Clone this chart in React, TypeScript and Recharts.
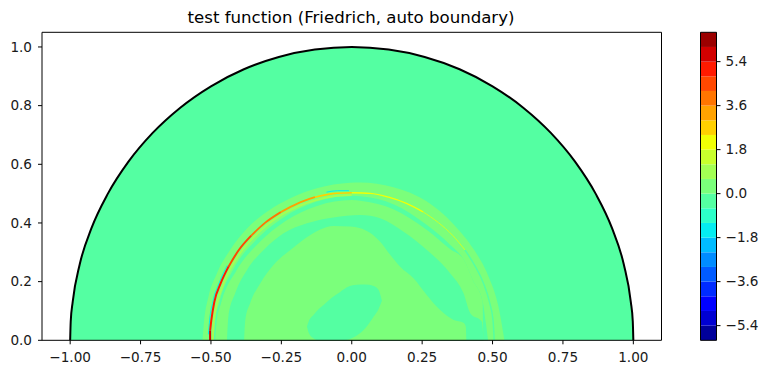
import React from 'react';
import { Area, ComposedChart, Line, ReferenceLine, XAxis, YAxis } from 'recharts';

type Pt = number[];

const xTicks = [-1, -0.75, -0.5, -0.25, 0, 0.25, 0.5, 0.75, 1];
const yTicks = [0, 0.2, 0.4, 0.6, 0.8, 1];
const barTicks = [-5.4, -3.6, -1.8, 0, 1.8, 3.6, 5.4];

const levels = [-6, -5.4, -4.8, -4.2, -3.6, -3, -2.4, -1.8, -1.2, -0.6, 0, 0.6, 1.2, 1.8, 2.4, 3, 3.6, 4.2, 4.8, 5.4, 6, 6.6];
const jetColors = [
  '#00009b', '#0000d2', '#0000ff', '#002bff', '#005bff', '#008cff', '#00bcff', '#05edf1', '#2dffc9', '#54ffa2', '#7bff7b',
  '#a3ff54', '#c9ff2d', '#f1ff05', '#ffd000', '#ffa200', '#ff7500', '#ff4800', '#ff1a00', '#d20000', '#9b0000',
];

const TEAL = jetColors[9];
const LIGHT = jetColors[10];

// unit half circle
const discEdge: Pt[] = [
  [-1, 0], [-0.998, 0.065], [-0.991, 0.131], [-0.966, 0.259], [-0.924, 0.383], [-0.866, 0.5], [-0.793, 0.609],
  [-0.707, 0.707], [-0.609, 0.793], [-0.5, 0.866], [-0.383, 0.924], [-0.259, 0.966], [-0.131, 0.991], [0, 1],
  [0.131, 0.991], [0.259, 0.966], [0.383, 0.924], [0.5, 0.866], [0.609, 0.793], [0.707, 0.707], [0.793, 0.609],
  [0.866, 0.5], [0.924, 0.383], [0.966, 0.259], [0.991, 0.131], [0.998, 0.065], [1, 0],
];

const outerRing: Pt[] = [
  [-0.53, 0], [-0.524, 0.069], [-0.509, 0.148], [-0.479, 0.228], [-0.432, 0.308], [-0.372, 0.381], [-0.301, 0.438],
  [-0.218, 0.484], [-0.124, 0.518], [-0.005, 0.537], [0.03, 0.538], [0.148, 0.522], [0.267, 0.473], [0.362, 0.395],
  [0.433, 0.31], [0.486, 0.217], [0.521, 0.115], [0.542, 0],
];

const gapUpper: Pt[] = [
  [-0.49, 0], [-0.485, 0.064], [-0.471, 0.126], [-0.42, 0.243], [-0.341, 0.341], [-0.242, 0.419], [-0.127, 0.472],
  [0, 0.493], [0.03, 0.491], [0.148, 0.464], [0.267, 0.393], [0.35, 0.325], [0.397, 0.276], [0.43, 0.205],
  [0.465, 0.132], [0.476, 0.06], [0.484, 0],
];

const bandUpper: Pt[] = [
  [-0.485, 0], [-0.48, 0.063], [-0.465, 0.124], [-0.41, 0.237], [-0.331, 0.331], [-0.235, 0.407], [-0.123, 0.458],
  [0, 0.478], [0.03, 0.476], [0.148, 0.447], [0.267, 0.376], [0.35, 0.31], [0.397, 0.276], [0.43, 0.205],
  [0.465, 0.132], [0.466, 0.063], [0.467, 0],
];

const bandLower: Pt[] = [
  [-0.443, 0], [-0.438, 0.08], [-0.414, 0.16], [-0.372, 0.24], [-0.313, 0.308], [-0.242, 0.365], [-0.159, 0.399],
  [-0.065, 0.419], [0.03, 0.427], [0.101, 0.416], [0.184, 0.37], [0.267, 0.308], [0.35, 0.228], [0.397, 0.16],
  [0.421, 0.092], [0.462, 0.063], [0.468, 0],
];

const innerBlob: Pt[] = [
  [-0.382, 0], [-0.378, 0.069], [-0.361, 0.126], [-0.325, 0.194], [-0.278, 0.257], [-0.218, 0.308], [-0.147, 0.359],
  [-0.112, 0.378], [-0.065, 0.39], [-0.005, 0.388], [0.03, 0.382], [0.066, 0.366], [0.101, 0.336], [0.137, 0.291],
  [0.172, 0.251], [0.22, 0.211], [0.267, 0.154], [0.314, 0.103], [0.362, 0.069], [0.397, 0.06], [0.405, 0.046], [0.407, 0],
];

// x, lower edge, upper edge
const holeEdge: Pt[] = [
  [-0.159, 0.047, 0.047], [-0.153, 0.026, 0.064], [-0.136, 0.007, 0.086], [-0.118, 0, 0.106], [-0.1, 0, 0.12],
  [-0.071, 0, 0.145], [-0.041, 0, 0.165], [-0.011, 0.003, 0.183], [0.018, 0.016, 0.189], [0.048, 0.041, 0.19],
  [0.078, 0.081, 0.185], [0.095, 0.106, 0.172], [0.107, 0.135, 0.135],
];

// the sharp ridge, cut in pieces by contour colour
const ridgeDark: Pt[] = [[-0.503, 0], [-0.503, 0.033]];
const ridgeRed: Pt[] = [[-0.503, 0.033], [-0.499, 0.066], [-0.488, 0.131], [-0.466, 0.193], [-0.437, 0.252]];
const ridgeRedOrange: Pt[] = [[-0.437, 0.252], [-0.401, 0.308], [-0.357, 0.357]];
const ridgeOrange: Pt[] = [[-0.357, 0.357], [-0.307, 0.401], [-0.252, 0.437]];
const ridgeAmber: Pt[] = [[-0.252, 0.437], [-0.193, 0.466], [-0.131, 0.488]];
const ridgeGold: Pt[] = [[-0.131, 0.488], [-0.066, 0.5], [0, 0.503]];
const ridgeYellow: Pt[] = [[0, 0.503], [0.066, 0.501], [0.131, 0.488], [0.194, 0.467], [0.253, 0.438]];
const ridgeLime: Pt[] = [[0.253, 0.438], [0.308, 0.401], [0.358, 0.358], [0.402, 0.308]];
const ridgeTeal: Pt[] = [[0.402, 0.308], [0.438, 0.253], [0.468, 0.194], [0.489, 0.131], [0.502, 0.066], [0.506, 0]];

const ridgeInner: Pt[] = [
  [-0.494, 0], [-0.49, 0.065], [-0.478, 0.128], [-0.457, 0.19], [-0.429, 0.248], [-0.393, 0.302], [-0.35, 0.35],
  [-0.301, 0.393], [-0.247, 0.429], [-0.19, 0.457], [-0.128, 0.478], [-0.065, 0.491], [0, 0.495],
];
const shadowLeft: Pt[] = [[-0.509, 0.02], [-0.505, 0.066], [-0.493, 0.132], [-0.471, 0.195], [-0.442, 0.255]];
const shadowTop: Pt[] = [[-0.09, 0.505], [-0.05, 0.51], [-0.01, 0.51]];

const rows = (pts: Pt[]) => pts.map(([x, y]) => ({ x, y }));
const holeRows = holeEdge.map(([x, lo, hi]) => ({ x, range: [lo, hi] }));
const barRows = jetColors.map((c, i) => ({
  color: c,
  data: [
    { x: 0, range: [levels[i], levels[i + 1]] },
    { x: 1, range: [levels[i], levels[i + 1]] },
  ],
}));

const minus = (s: string) => s.replace('-', '\u2212');
const tickStyle = { fill: '#1a1a1a', fontSize: 13.6, fontFamily: 'DejaVu Sans' };

const filled: [Pt[], string][] = [
  [discEdge, TEAL],
  [outerRing, LIGHT],
  [gapUpper, TEAL],
  [bandUpper, LIGHT],
  [bandLower, TEAL],
  [innerBlob, LIGHT],
];

const ridges: [Pt[], string, number][] = [
  [ridgeInner, jetColors[11], 2],
  [shadowLeft, jetColors[7], 1],
  [shadowTop, jetColors[7], 1],
  [ridgeTeal, TEAL, 1.5],
  [ridgeLime, jetColors[12], 1],
  [ridgeYellow, jetColors[13], 1.3],
  [ridgeGold, jetColors[14], 1.6],
  [ridgeAmber, jetColors[15], 1.8],
  [ridgeOrange, jetColors[16], 1.8],
  [ridgeRedOrange, jetColors[17], 2],
  [ridgeRed, jetColors[18], 2],
  [ridgeDark, jetColors[19], 2],
];

export default function App() {
  return (
    <div style={{ position: 'absolute', left: 0, top: 0, width: 769, height: 374 }}>
      <div
        style={{
          position: 'absolute',
          left: 41,
          width: 620,
          top: 8,
          textAlign: 'center',
          fontFamily: 'DejaVu Sans',
          fontSize: 16.6,
          color: '#000',
          lineHeight: '20px',
        }}
      >
        test function (Friedrich, auto boundary)
      </div>

      <div style={{ position: 'absolute', left: 0, top: 0 }}>
        <ComposedChart width={769} height={374} margin={{ top: 32.3, right: 107.5, bottom: 0, left: 0 }}>
          <XAxis
            type="number"
            dataKey="x"
            domain={[-1.1, 1.1]}
            ticks={xTicks}
            height={33.7}
            tickSize={4}
            tickMargin={8}
            stroke="#000"
            tick={tickStyle}
            tickFormatter={(v: number) => minus(v.toFixed(2))}
            interval={0}
          />
          <YAxis
            type="number"
            domain={[0, 1.05]}
            ticks={yTicks}
            width={42}
            tickSize={4}
            tickMargin={6}
            stroke="#000"
            tick={tickStyle}
            tickFormatter={(v: number) => v.toFixed(1)}
            interval={0}
          />
          {filled.map(([pts, color], i) => (
            <Area
              key={i}
              data={rows(pts)}
              dataKey="y"
              type="monotone"
              fill={color}
              fillOpacity={1}
              stroke="none"
              dot={false}
              activeDot={false}
              isAnimationActive={false}
            />
          ))}
          <Area
            data={holeRows}
            dataKey="range"
            type="monotone"
            fill={TEAL}
            fillOpacity={1}
            stroke="none"
            dot={false}
            activeDot={false}
            isAnimationActive={false}
          />
          {ridges.map(([pts, color, w], i) => (
            <Line
              key={i}
              data={rows(pts)}
              dataKey="y"
              type="monotone"
              stroke={color}
              strokeWidth={w}
              dot={false}
              activeDot={false}
              isAnimationActive={false}
            />
          ))}
          <Line
            data={rows(discEdge)}
            dataKey="y"
            type="monotone"
            stroke="#000"
            strokeWidth={2}
            dot={false}
            activeDot={false}
            isAnimationActive={false}
          />
          <ReferenceLine x={1.1} stroke="#000" />
          <ReferenceLine y={1.05} stroke="#000" />
        </ComposedChart>
      </div>

      <div style={{ position: 'absolute', left: 0, top: 0 }}>
        <ComposedChart width={769} height={374} margin={{ top: 32.3, right: 0, bottom: 33.7, left: 700.5 }}>
          <XAxis type="number" dataKey="x" domain={[0, 1]} hide />
          <YAxis
            type="number"
            orientation="right"
            domain={[-6, 6.6]}
            ticks={barTicks}
            width={52.5}
            tickSize={4}
            tickMargin={5}
            axisLine={false}
            stroke="#000"
            tick={{ ...tickStyle, textAnchor: 'start' }}
            tickFormatter={(v: number) => minus(v.toFixed(1))}
            interval={0}
          />
          {barRows.map((b, i) => (
            <Area
              key={i}
              data={b.data}
              dataKey="range"
              type="linear"
              fill={b.color}
              fillOpacity={1}
              stroke="none"
              dot={false}
              activeDot={false}
              isAnimationActive={false}
            />
          ))}
          <ReferenceLine x={0} stroke="#000" />
          <ReferenceLine x={1} stroke="#000" />
          <ReferenceLine y={-6} stroke="#000" />
          <ReferenceLine y={6.6} stroke="#000" />
        </ComposedChart>
      </div>
    </div>
  );
}
